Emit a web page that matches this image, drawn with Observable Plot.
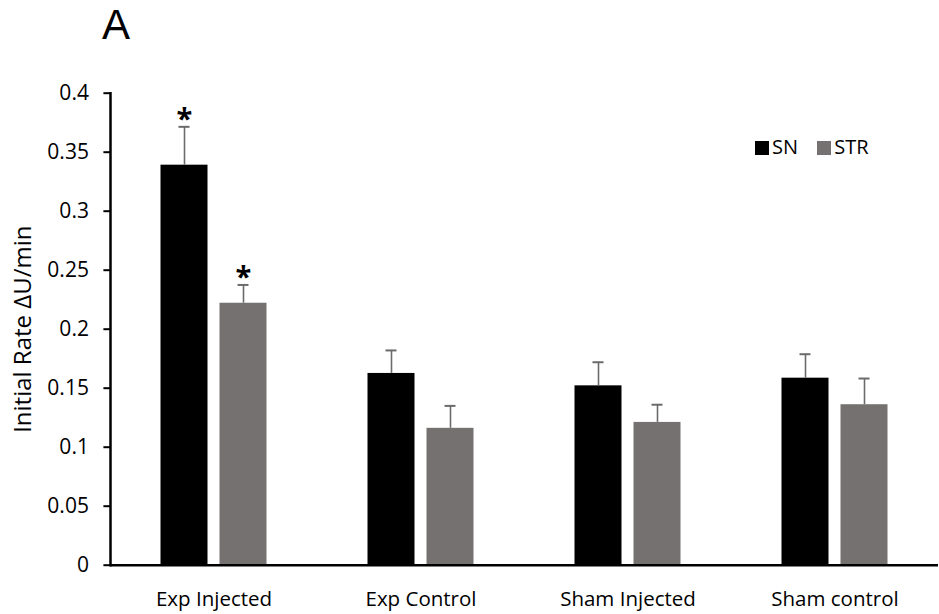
<!DOCTYPE html>
<html>
<head>
<meta charset="utf-8">
<script src="https://cdn.jsdelivr.net/npm/d3@7"></script>
<script src="https://cdn.jsdelivr.net/npm/@observablehq/plot@0.6"></script>
<style>
  html, body { margin: 0; padding: 0; background: #fff; }
  body { font-family: "Open Sans", sans-serif; color: #000; }
  #wrap { position: relative; width: 939px; height: 614px; }
  #title { position: absolute; left: 102px; top: 4px; font-family: "Liberation Sans", Arial, sans-serif; font-size: 42px; line-height: 42px; }
  .lg-sw { position: absolute; width: 14px; height: 14px; }
  .lg-tx { position: absolute; font-size: 20px; line-height: 20px; white-space: nowrap; }
  svg { position: absolute; left: 0; top: 0; }
</style>
</head>
<body>
<div id="wrap"><div id="title"></div></div>
<script>
// ---- data ----
const titleText = "A";
const yLabel = "Initial Rate ΔU/min";
const groups = ["Exp Injected", "Exp Control", "Sham Injected", "Sham control"];
const series = ["SN", "STR"];
const snValues  = [0.339, 0.1625, 0.152, 0.1585];
const strValues = [0.222, 0.116, 0.121, 0.136];
const snErrors  = [0.0325, 0.0195, 0.020, 0.0203];
const strErrors = [0.0155, 0.019, 0.015, 0.0222];
const snStars   = [true, false, false, false];
const strStars  = [true, false, false, false];
const yTicks = [0, 0.05, 0.1, 0.15, 0.2, 0.25, 0.3, 0.35, 0.4];
const seriesColors = ["#000000", "#767171"];

const rows = groups.flatMap((g, i) => [
  {group: g, series: series[0], value: snValues[i], err: snErrors[i], star: snStars[i]},
  {group: g, series: series[1], value: strValues[i], err: strErrors[i], star: strStars[i]}
]);

const wrap = document.getElementById("wrap");
document.getElementById("title").textContent = titleText;

const chart = Plot.plot({
  width: 939,
  height: 614,
  marginLeft: 108.5,
  marginRight: 0,
  marginTop: 92.7,
  marginBottom: 49.3,
  style: {fontFamily: "'Open Sans', sans-serif", fontSize: "20px", color: "#000", background: "transparent", overflow: "visible"},
  fx: {domain: groups, padding: 0, label: null},
  x: {domain: series, paddingInner: 0.2, paddingOuter: 0.848, axis: null},
  y: {domain: [0, 0.4], label: null},
  color: {domain: series, range: seriesColors},
  marks: [
    Plot.barY(rows, {fx: "group", x: "series", y: "value", fill: "series"}),
    Plot.ruleX(rows, {fx: "group", x: "series", y1: "value", y2: d => d.value + d.err, stroke: "#6b6b6b", strokeWidth: 1.6}),
    Plot.tickY(rows, {fx: "group", x: "series", y: d => d.value + d.err, stroke: "#6b6b6b", strokeWidth: 2, insetLeft: 18, insetRight: 18}),
    Plot.text(rows.filter(d => d.star), {fx: "group", x: "series", y: d => d.value + d.err, text: () => "*", dy: -7, fontSize: 29, fontWeight: "bold", fill: "#000"}),
    Plot.axisY({ticks: yTicks, tickSize: 6.6, tickPadding: 15, tickFormat: d => String(d), stroke: "#000", strokeWidth: 2, label: null, fontSize: 21}),
    Plot.axisFx({anchor: "bottom", tickSize: 0, tickPadding: 26, label: null, fontSize: 20.5}),
    Plot.ruleY([0], {stroke: "#000", strokeWidth: 2.5}),
    Plot.frame({anchor: "left", facetAnchor: "left", stroke: "#000", strokeWidth: 2.5}),
    Plot.text([{group: groups[0], label: yLabel}], {fx: "group", frameAnchor: "left", textAnchor: "middle", text: "label", rotate: -90, dx: -87, fontSize: 24, fill: "#000"})
  ]
});
wrap.appendChild(chart);

// legend (inside plot area, top right)
const legendLeft = [755, 817.3];
series.forEach((s, i) => {
  const sw = document.createElement("div");
  sw.className = "lg-sw";
  sw.style.left = legendLeft[i] + "px";
  sw.style.top = "140.7px";
  sw.style.background = seriesColors[i];
  wrap.appendChild(sw);
  const tx = document.createElement("div");
  tx.className = "lg-tx";
  tx.style.left = (legendLeft[i] + 17) + "px";
  tx.style.top = "136.5px";
  tx.textContent = s;
  wrap.appendChild(tx);
});
</script>
</body>
</html>
